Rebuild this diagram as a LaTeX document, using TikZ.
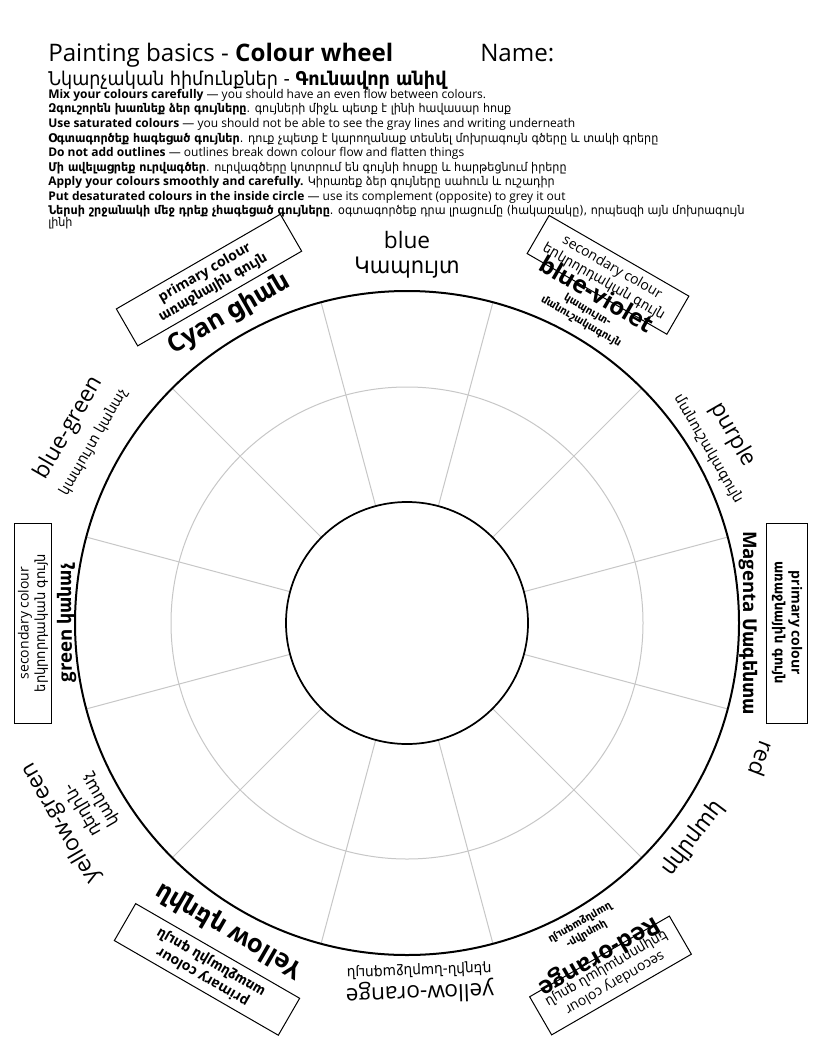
\documentclass[tikz,border=0pt]{standalone}
\usepackage{fontspec}
\setmainfont{Open Sans}
\newfontfamily\hyfont[FakeStretch=0.93]{DejaVu Sans}
\newcommand{\hyt}[1]{{\hyfont #1}}
\usetikzlibrary{positioning}
\begin{document}
\begin{tikzpicture}[x=0.75pt,y=-0.75pt,
  hdr/.style={anchor=base west, inner sep=0},
  body/.style={hdr, font=\fontsize{9}{11}\selectfont},
  spoke/.style={draw=black!22, line width=0.75pt},
  ring/.style={draw=black!22, line width=0.75pt},
  big/.style={inner sep=0, font=\fontsize{17}{20}\selectfont},
  small/.style={inner sep=0, font=\fontsize{11}{13}\selectfont},
  smallb/.style={inner sep=0, font=\bfseries\fontsize{8}{9}\selectfont},
  bigb/.style={inner sep=0, font=\bfseries\fontsize{18}{20}\selectfont},
  pbox/.style={draw, line width=0.75pt, inner sep=0, align=center, font=\bfseries\fontsize{10.5}{12.5}\selectfont},
  sbox/.style={draw, line width=0.75pt, inner sep=0, align=center, font=\fontsize{10.5}{12.5}\selectfont}
]
\useasboundingbox (0,0) rectangle (816,1056);
\fill[white] (0,0) rectangle (816,1056);

% ---------- header ----------
\node[hdr, font=\fontsize{18.1}{22}\selectfont] (title) at (48,62) {Painting basics - \textbf{Colour wheel}};
\node[hdr, font=\fontsize{18.1}{22}\selectfont] (name) at (480,62) {Name:};
\node[hdr, font=\fontsize{14.2}{17}\selectfont] (sub) at (48,85) {\hyt{Նկարչական հիմունքներ - \textbf{Գունավոր անիվ}}};
\node[body] (l1) at (48,98.5) {\textbf{Mix your colours carefully} — you should have an even flow between colours.};
\node[body] (l2) at (48,113) {\hyt{\textbf{Զգուշորեն խառնեք ձեր գույները}. գույների միջև պետք է լինի հավասար հոսք}};
\node[body] (l3) at (48,127.5) {\textbf{Use saturated colours} — you should not be able to see the gray lines and writing underneath};
\node[body] (l4) at (48,142) {\hyt{\textbf{Օգտագործեք հագեցած գույներ}. դուք չպետք է կարողանաք տեսնել մոխրագույն գծերը և տակի գրերը}};
\node[body] (l5) at (48,156.5) {\textbf{Do not add outlines} — outlines break down colour flow and flatten things};
\node[body] (l6) at (48,171) {\hyt{\textbf{Մի ավելացրեք ուրվագծեր}. ուրվագծերը կոտրում են գույնի հոսքը և հարթեցնում իրերը}};
\node[body] (l7) at (48,185.5) {\textbf{Apply your colours smoothly and carefully.} \hyt{Կիրառեք ձեր գույները սահուն և ուշադիր}};
\node[body] (l8) at (48,200) {\textbf{Put desaturated colours in the inside circle} — use its complement (opposite) to grey it out};
\node[body] (l9) at (48,214.5) {\hyt{\textbf{Ներսի շրջանակի մեջ դրեք չհագեցած գույները}. օգտագործեք դրա լրացումը (հակառակը), որպեսզի այն մոխրագույն}};
\node[body] (l10) at (48,226.5) {\hyt{լինի}};

% ---------- wheel ----------
\coordinate (C) at (407,623);
\foreach \a in {15,45,...,345}
  \draw[spoke] ([shift={({\a-90}:121)}]C) -- ([shift={({\a-90}:332)}]C);
\draw[ring] (C) circle[radius=236];
\draw[line width=1.5pt] (C) circle[radius=332];
\draw[line width=1.3pt] (C) circle[radius=121];

% blue (0)
\node[big] (blueA) at ([shift={(-90:383)}]C) {blue};
\node[big] (blueB) at ([shift={(-90:355)}]C) {\hyt{Կապույտ}};
% blue-violet (30)
\node[sbox, rotate=-30, minimum width=121pt, minimum height=33pt] (bvbox) at ([shift={(-60:402)}]C) {secondary colour\\\hyt{երկրորդական գույն}};
\node[bigb, rotate=-30] (bvA) at ([shift={(-60:380)}]C) {blue-violet};
\node[smallb, rotate=-30] (bvB) at ([shift={(-60:361)}]C) {\hyt{կապույտ-}};
\node[smallb, rotate=-30] (bvC) at ([shift={(-60:348)}]C) {\hyt{մանուշակագույն}};
% purple (60)
\node[big, rotate=-60] (puA) at ([shift={(-30:376)}]C) {purple};
\node[small, rotate=-60] (puB) at ([shift={(-30:348)}]C) {\hyt{մանուշակագույն}};
% magenta (90)
\node[pbox, rotate=-90, minimum width=150pt, minimum height=31pt] (mgbox) at ([shift={(0:380)}]C) {primary colour\\\hyt{առաջնային գույն}};
\node[inner sep=0, font=\bfseries\fontsize{14}{16}\selectfont, rotate=-90] (mg) at ([shift={(0:341)}]C) {Magenta \hyt{Մագենտա}};
% red (120)
\node[big, rotate=-111] (redA) at ([shift={(21:380)}]C) {red};
\node[big, rotate=-127] (redB) at ([shift={(37:358)}]C) {\hyt{կարմիր}};
% red-orange (150)
\node[sbox, rotate=-150, minimum width=121pt, minimum height=33pt] (robox) at ([shift={(60:407)}]C) {secondary colour\\\hyt{երկրորդական գույն}};
\node[bigb, rotate=-150] (roA) at ([shift={(60:384)}]C) {Red-orange};
\node[smallb, rotate=-150] (roB) at ([shift={(60:359)}]C) {\hyt{կարմիր-}};
\node[smallb, rotate=-150] (roC) at ([shift={(60:346)}]C) {\hyt{նարնջագույն}};
% yellow-orange (180)
\node[big, rotate=182] (yoA) at ([shift={(88:369)}]C) {yellow-orange};
\node[small, rotate=182] (yoB) at ([shift={(88:348)}]C) {\hyt{դեղին-նարնջագույն}};
% yellow (210)
\node[pbox, rotate=-210, minimum width=142pt, minimum height=32pt] (yebox) at ([shift={(120:400)}]C) {primary colour\\\hyt{առաջնային գույն}};
\node[bigb, font=\bfseries\fontsize{19}{21}\selectfont, rotate=-210] (ye) at ([shift={(120:355)}]C) {Yellow \hyt{դեղին}};
% yellow-green (240)
\node[big, rotate=-240] (ygA) at ([shift={(150:400)}]C) {yellow-green};
\node[inner sep=0, font=\fontsize{13}{15}\selectfont, rotate=-240] (ygB) at ([shift={(150:374)}]C) {\hyt{դեղին-}};
\node[inner sep=0, font=\fontsize{13}{15}\selectfont, rotate=-240] (ygC) at ([shift={(150:354)}]C) {\hyt{կանաչ}};
% green (270)
\node[sbox, rotate=-270, minimum width=150pt, minimum height=28pt] (grbox) at ([shift={(180:374)}]C) {secondary colour\\\hyt{երկրորդական գույն}};
\node[inner sep=0, font=\bfseries\fontsize{14}{16}\selectfont, rotate=-270] (gr) at ([shift={(180:340)}]C) {green \hyt{կանաչ}};
% blue-green (300)
\node[big, rotate=-300] (bgA) at ([shift={(210:390)}]C) {blue-green};
\node[small, rotate=-300] (bgB) at ([shift={(210:362)}]C) {\hyt{կապույտ կանաչ}};
% cyan (330)
\node[pbox, rotate=-330, minimum width=142pt, minimum height=32pt] (cybox) at ([shift={(240:396)}]C) {primary colour\\\hyt{առաջնային գույն}};
\node[bigb, font=\bfseries\fontsize{19}{21}\selectfont, rotate=-330] (cy) at ([shift={(240:356)}]C) {Cyan \hyt{ցիան}};
\end{tikzpicture}
\end{document}
